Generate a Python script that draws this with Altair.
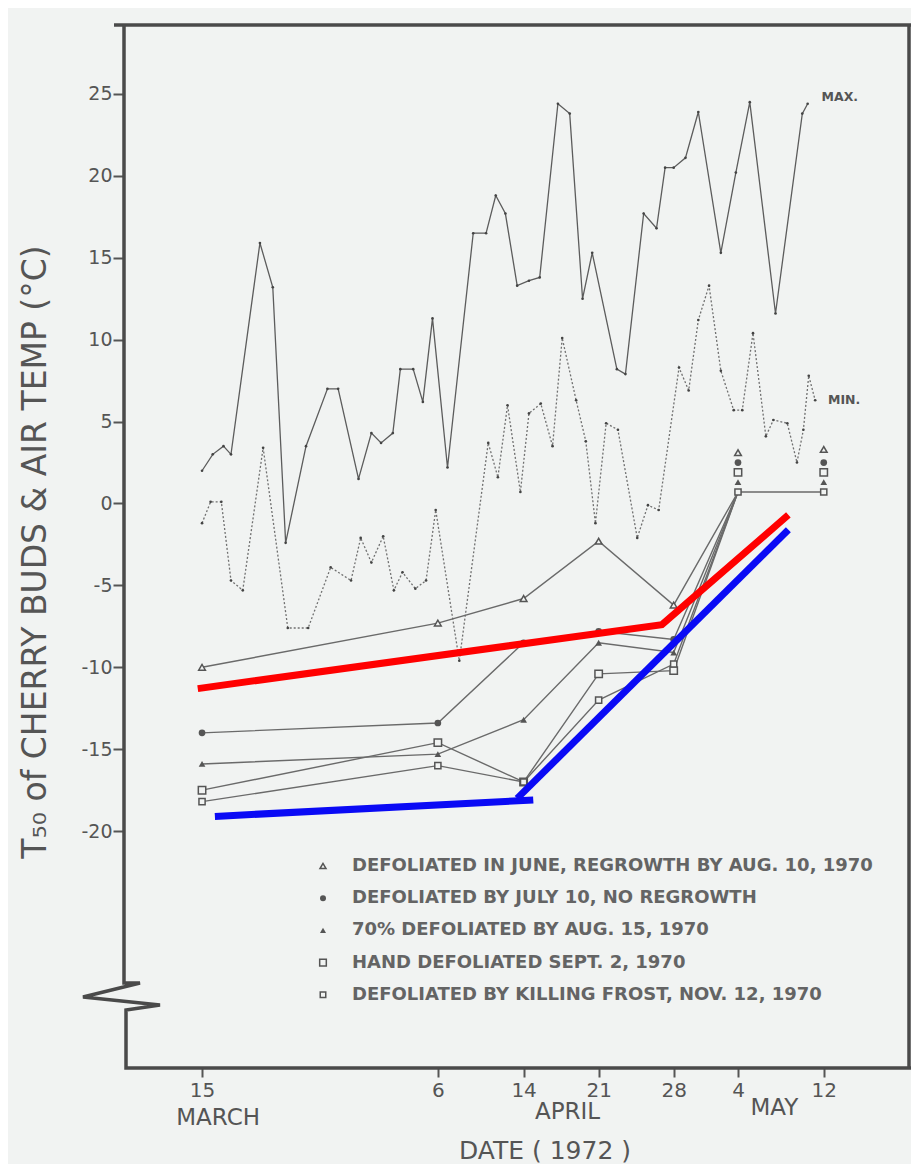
import altair as alt
import pandas as pd

# ---------------- data (x = days after 15 March 1972) ----------------
max_day = [0.0, 1.0, 2.0, 2.7, 5.4, 6.6, 7.8, 9.7, 11.7, 12.7, 14.6, 15.8, 16.7, 17.8, 18.5,
           19.7, 20.6, 21.5, 22.9, 25.3, 26.5, 27.4, 28.3, 29.4, 30.5, 31.5, 33.2, 34.3, 35.5,
           36.4, 38.7, 39.5, 41.2, 42.4, 43.2, 44.0, 45.1, 46.3, 48.4, 49.8, 51.1, 53.5, 56.0, 56.5]
max_temp = [2.0, 3.0, 3.5, 3.0, 15.9, 13.2, -2.4, 3.5, 7.0, 7.0, 1.5, 4.3, 3.7, 4.3, 8.2,
            8.2, 6.2, 11.3, 2.2, 16.5, 16.5, 18.8, 17.7, 13.3, 13.6, 13.8, 24.4, 23.8, 12.5,
            15.3, 8.2, 7.9, 17.7, 16.8, 20.5, 20.5, 21.1, 23.9, 15.3, 20.2, 24.5, 11.6, 23.8, 24.4]

min_day = [0.0, 0.8, 1.8, 2.7, 3.8, 5.7, 8.0, 9.9, 12.0, 13.9, 14.8, 15.8, 16.9, 17.9, 18.7,
           19.9, 20.9, 21.8, 24.0, 26.7, 27.6, 28.5, 29.7, 30.5, 31.6, 32.7, 33.6, 34.9, 35.8,
           36.7, 37.7, 38.8, 40.6, 41.6, 42.6, 44.5, 45.4, 46.3, 47.3, 48.4, 49.6, 50.4, 51.4,
           52.6, 53.3, 54.6, 55.5, 56.1, 56.6, 57.2]
min_temp = [-1.2, 0.1, 0.1, -4.7, -5.3, 3.4, -7.6, -7.6, -3.9, -4.7, -2.1, -3.6, -2.0, -5.3, -4.2,
            -5.2, -4.7, -0.4, -9.6, 3.7, 1.6, 6.0, 0.7, 5.5, 6.1, 3.5, 10.1, 6.3, 3.8,
            -1.2, 4.9, 4.5, -2.1, -0.1, -0.4, 8.3, 6.9, 11.2, 13.3, 8.1, 5.7, 5.7, 10.4,
            4.1, 5.1, 4.9, 2.5, 4.5, 7.8, 6.3]

series_names = [
    "DEFOLIATED IN JUNE, REGROWTH BY AUG. 10, 1970",
    "DEFOLIATED BY JULY 10, NO REGROWTH",
    "70% DEFOLIATED BY AUG. 15, 1970",
    "HAND DEFOLIATED SEPT. 2, 1970",
    "DEFOLIATED BY KILLING FROST, NOV. 12, 1970",
]
t50_days = [0, 22, 30, 37, 44]
t50_s1 = [-10.0, -7.3, -5.8, -2.3, -6.2]
t50_s2 = [-14.0, -13.4, -8.5, -7.8, -8.3]
t50_s3 = [-15.9, -15.3, -13.2, -8.5, -9.1]
t50_s4 = [-17.5, -14.6, -17.0, -10.4, -10.2]
t50_s5 = [-18.2, -16.0, -17.0, -12.0, -9.8]
may_days = [50, 58]
may_join = 0.7
may4_marks = [3.1, 2.5, 1.3, 1.9, 0.7]
may12_marks = [3.3, 2.5, 1.3, 1.9, 0.7]

red_day = [-0.4, 42.9, 54.7]
red_val = [-11.3, -7.4, -0.7]
blue_a_day = [1.2, 30.9]
blue_a_val = [-19.1, -18.1]
blue_b_day = [29.4, 54.7]
blue_b_val = [-18.0, -1.6]

tick_days = [0, 22, 30, 37, 44, 50, 58]
y_ticks = [-20, -15, -10, -5, 0, 5, 10, 15, 20, 25]
month_labels = ["MARCH", "APRIL", "MAY"]
month_days = [1.5, 34.1, 53.4]

# ---------------- scales ----------------
X0, X1 = -7.28, 66.14
Y0, Y1 = -34.46, 29.21
W, H = 787, 1043
FONT = "DejaVu Sans"
INK = "#555555"
BG = "#f1f3f2"

xscale = alt.Scale(domain=[X0, X1], nice=False, zero=False)
yscale = alt.Scale(domain=[Y0, Y1], nice=False, zero=False)
xaxis = alt.Axis(values=tick_days, labelExpr="'' + date(datetime(1972, 2, 15 + datum.value))",
                 title=None, domain=False, grid=False, tickSize=9, tickWidth=2, tickColor=INK,
                 labelFontSize=20, labelFont=FONT, labelColor=INK, labelPadding=3)
yaxis = alt.Axis(values=y_ticks,
                 labelExpr="datum.value < 0 ? '-' + (-datum.value) : '' + datum.value",
                 title=None, domain=False, grid=False, tickSize=11, tickWidth=2, tickColor=INK,
                 labelFontSize=19, labelFont=FONT, labelColor=INK, labelPadding=1)


def X(f):
    return alt.X(f, type="quantitative", scale=xscale, axis=xaxis)


def Y(f):
    return alt.Y(f, type="quantitative", scale=yscale, axis=yaxis)


def px2d(px, py):
    return X0 + px / W * (X1 - X0), Y1 - py / H * (Y1 - Y0)


layers = []

# temperature lines
dmax = pd.DataFrame({"d": max_day, "v": max_temp})
dmin = pd.DataFrame({"d": min_day, "v": min_temp})
layers.append(alt.Chart(dmax).mark_line(color="#5c5c5c", strokeWidth=1.3).encode(x=X("d"), y=Y("v")))
layers.append(alt.Chart(dmax).mark_point(filled=True, size=7, color="#444", opacity=1).encode(x=X("d"), y=Y("v")))
layers.append(alt.Chart(dmin).mark_line(color="#707070", strokeWidth=1.3, strokeDash=[2, 2]).encode(x=X("d"), y=Y("v")))
layers.append(alt.Chart(dmin).mark_point(filled=True, size=7, color="#444", opacity=1).encode(x=X("d"), y=Y("v")))

# T50 lines and markers
all_series = [t50_s1, t50_s2, t50_s3, t50_s4, t50_s5]
line_rows, mark_rows = [], []
for i, vals in enumerate(all_series):
    for d, v in zip(t50_days, vals):
        line_rows.append({"s": i, "d": d, "v": v})
        mark_rows.append({"s": i, "d": d, "v": v})
    line_rows.append({"s": i, "d": may_days[0], "v": may_join})
    mark_rows.append({"s": i, "d": may_days[0], "v": may4_marks[i]})
    mark_rows.append({"s": i, "d": may_days[1], "v": may12_marks[i]})
line_rows.append({"s": 4, "d": may_days[1], "v": may_join})
dl = pd.DataFrame(line_rows)
dm = pd.DataFrame(mark_rows)
layers.append(alt.Chart(dl).mark_line(color="#6a6a6a", strokeWidth=1.4).encode(
    x=X("d"), y=Y("v"), detail="s:N"))

styles = [("triangle-up", False, 45), ("circle", True, 45), ("triangle-up", True, 45),
          ("square", False, 55), ("square", False, 38)]
for i, (shape, filled, size) in enumerate(styles):
    layers.append(alt.Chart(dm[dm.s == i]).mark_point(
        shape=shape, filled=filled, size=size, color=INK, strokeWidth=1.5, opacity=1,
        fill=BG if not filled else INK).encode(x=X("d"), y=Y("v")))

# red / blue overlay lines
dred = pd.DataFrame({"d": red_day, "v": red_val, "o": range(3)})
layers.append(alt.Chart(dred).mark_line(color="#ff0000", strokeWidth=7).encode(
    x=X("d"), y=Y("v"), order="o:Q"))
dblue = pd.DataFrame({"d": blue_a_day + blue_b_day, "v": blue_a_val + blue_b_val,
                      "g": ["a", "a", "b", "b"], "o": [0, 1, 0, 1]})
layers.append(alt.Chart(dblue).mark_line(color="#0a0af5", strokeWidth=7).encode(
    x=X("d"), y=Y("v"), detail="g:N", order="o:Q"))

# frame with axis break
frame_px = [[(-10, 0), (790, 0)],
            [(0, 0), (0, 958), (16, 958), (-41, 972), (36, 980), (2, 985), (2, 1043), (790, 1043)],
            [(785, 0), (785, 1043)]]
frows = []
for g, pts in enumerate(frame_px):
    for k, (px, py) in enumerate(pts):
        d, v = px2d(px, py)
        frows.append({"g": g, "o": k, "d": d, "v": v})
layers.append(alt.Chart(pd.DataFrame(frows)).mark_line(color="#4a4a4a", strokeWidth=3.5,
                                                       strokeJoin="miter").encode(
    x=X("d"), y=Y("v"), detail="g:N", order="o:Q"))

# MAX / MIN labels
dlab = pd.DataFrame({"t": ["MAX.", "MIN."], "d": [57.8, 58.4], "v": [24.8, 6.3]})
layers.append(alt.Chart(dlab).mark_text(font=FONT, fontSize=12.5, fontWeight="bold", color=INK,
                                        align="left", baseline="middle").encode(
    x=X("d"), y=Y("v"), text="t:N"))

# month labels
month_y = [1093, 1087, 1083]
for m, d, yy in zip(month_labels, month_days, month_y):
    layers.append(alt.Chart(pd.DataFrame({"t": [m], "d": [d]})).mark_text(
        font=FONT, fontSize=23, color=INK, align="center", baseline="middle").encode(
        x=X("d"), y=alt.value(yy), text="t:N"))

# axis titles
layers.append(alt.Chart(pd.DataFrame({"t": ["DATE ( 1972 )"]})).mark_text(
    font=FONT, fontSize=25, color=INK, align="center", baseline="middle").encode(
    x=alt.value(421), y=alt.value(1126), text="t:N"))
layers.append(alt.Chart(pd.DataFrame({"t": ["T\u2085\u2080 of CHERRY BUDS & AIR TEMP (°C)"]})).mark_text(
    font=FONT, fontSize=33, color=INK, align="center", baseline="middle", angle=270).encode(
    x=alt.value(-88), y=alt.value(527), text="t:N"))

# legend
for i, ((shape, filled, size), name) in enumerate(zip(styles, series_names)):
    yy = 841 + 32.2 * i
    layers.append(alt.Chart(pd.DataFrame({"t": [name]})).mark_point(
        shape=shape, filled=filled, size=size * 0.8, color=INK, strokeWidth=1.5, opacity=1,
        fill=BG if not filled else INK).encode(x=alt.value(199), y=alt.value(yy)))
    layers.append(alt.Chart(pd.DataFrame({"t": [name]})).mark_text(
        font=FONT, fontSize=18, fontWeight="bold", color="#646464", align="left",
        baseline="middle").encode(x=alt.value(228), y=alt.value(yy), text="t:N"))

chart = alt.layer(*layers).properties(
    width=W, height=H,
    autosize=alt.AutoSizeParams(type="none"),
    padding={"left": 116, "top": 17, "right": 0, "bottom": 96},
    background=BG,
).configure_view(stroke=None)

chart.save("out.html", embed_options={"renderer": "svg", "actions": False})
